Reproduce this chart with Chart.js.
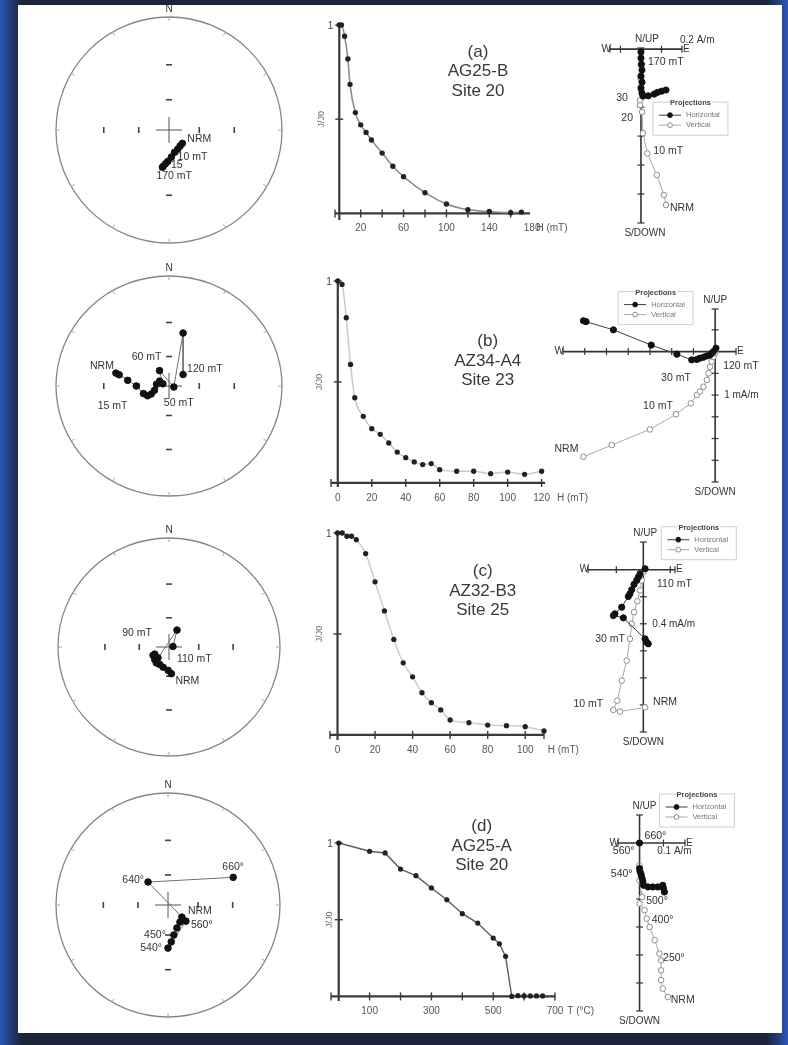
<!DOCTYPE html>
<html><head><meta charset="utf-8">
<script src="https://cdn.jsdelivr.net/npm/chart.js@4.4.1/dist/chart.umd.min.js"></script>
<style>
html,body{margin:0;padding:0}
body{width:788px;height:1045px;position:relative;overflow:hidden;
 background:
  linear-gradient(90deg, rgba(48,92,190,0.95) 0px, rgba(36,64,132,0.7) 12px, rgba(28,37,64,0) 22px, rgba(28,37,64,0) 766px, rgba(36,64,132,0.7) 776px, rgba(48,92,190,0.95) 788px),
  #1b2338;}
#sheet{position:absolute;left:18px;top:5px;width:764px;height:1028px;background:#fff}
canvas{position:absolute}
</style></head>
<body><div id="sheet"></div>
<script>
const FONT = '"Liberation Sans", Arial, sans-serif';
const D2R = Math.PI / 180;

// ---------- equal-angle nets: declination / inclination (deg) ----------
const decA = [135, 145, 155, 166, 175, 182, 186, 189, 190];
const incA = [71, 70.5, 69, 67, 63, 59, 56.5, 54, 53];
const decB = [284, 283, 278, 270, 253, 245, 245, 253, 278, 298, 290, 329, 102, 14.5, 50];
const incB = [38.3, 41.3, 49.5, 57.7, 63.4, 66.3, 70.3, 74.7, 77.3, 79.2, 83.4, 71.5, 85, 37.1, 71.5];
const decC = [175, 182, 196, 208, 218, 228, 242, 243, 225, 25, 82];
const incC = [62.4, 65.8, 68.2, 69.5, 69, 70.4, 71.5, 73.6, 74, 70.6, 85.9];
const decD = [131, 145, 159, 169, 175, 180, 132, 319, 67];
const incD = [71.3, 68.9, 65.2, 59.5, 53.4, 47.9, 65.7, 59.6, 25.4];
const netRingInc = [60, 30];

// ---------- demagnetisation curves: step and J/J0 ----------
const fieldA = [0, 2, 5, 8, 10, 15, 20, 25, 30, 40, 50, 60, 80, 100, 120, 140, 160, 170];
const jA = [1, 1, 0.94, 0.82, 0.685, 0.535, 0.47, 0.43, 0.39, 0.32, 0.25, 0.195, 0.11, 0.05, 0.02, 0.01, 0.004, 0.007];
const fieldB = [0, 2.5, 5, 7.5, 10, 15, 20, 25, 30, 35, 40, 45, 50, 55, 60, 70, 80, 90, 100, 110, 120];
const jB = [1, 0.983, 0.818, 0.587, 0.422, 0.33, 0.269, 0.241, 0.198, 0.153, 0.125, 0.104, 0.091, 0.096, 0.066, 0.058, 0.058, 0.046, 0.054, 0.043, 0.058];
const fieldC = [0, 2.5, 5, 7.5, 10, 15, 20, 25, 30, 35, 40, 45, 50, 55, 60, 70, 80, 90, 100, 110];
const jC = [1, 1, 0.984, 0.984, 0.967, 0.898, 0.758, 0.614, 0.473, 0.357, 0.288, 0.209, 0.16, 0.124, 0.074, 0.061, 0.049, 0.046, 0.041, 0.02];
const tempD = [0, 100, 150, 200, 250, 300, 350, 400, 450, 500, 520, 540, 560, 580, 600, 620, 640, 660];
const jD = [1, 0.946, 0.935, 0.83, 0.787, 0.707, 0.63, 0.539, 0.478, 0.38, 0.343, 0.261, 0, 0.005, 0.003, 0.003, 0.003, 0.003];

const fieldTicksA = [20, 40, 60, 80, 100, 120, 140, 160];
const fieldLabelsA = [20, 60, 100, 140, 180];
const fieldTicksB = [20, 40, 60, 80, 100, 120];
const fieldLabelsB = [0, 20, 40, 60, 80, 100, 120];
const fieldTicksC = [20, 40, 60, 80, 100, 110];
const fieldLabelsC = [0, 20, 40, 60, 80, 100];
const tempTicksD = [100, 200, 300, 400, 500, 600, 700];
const tempLabelsD = [100, 300, 500, 700];

// ---------- orthogonal projections: horizontal (E, N) and vertical (E, Up) ----------
const hEastA = [0.122, 0.101, 0.081, 0.065, 0.036, 0.010, 0.005, 0.000, 0.005, 0.000, 0.005, 0.002, 0.000, 0.000];
const hNorthA = [-0.141, -0.145, -0.149, -0.155, -0.161, -0.162, -0.152, -0.134, -0.114, -0.093, -0.072, -0.052, -0.031, -0.010];
const vEastA = [0.122, 0.112, 0.077, 0.031, 0.010, 0.005, -0.005, -0.005, 0, 0, 0, 0];
const vUpA = [-0.538, -0.503, -0.434, -0.360, -0.290, -0.217, -0.193, -0.176, -0.141, -0.107, -0.055, -0.010];

const hEastB = [-3.03, -2.97, -2.34, -1.47, -0.88, -0.54, -0.42, -0.35, -0.27, -0.19, -0.12, -0.08, -0.04, 0.02];
const hNorthB = [0.71, 0.69, 0.50, 0.15, -0.06, -0.19, -0.18, -0.15, -0.13, -0.10, -0.08, -0.04, 0, 0.08];
const vEastB = [-3.03, -2.38, -1.50, -0.90, -0.56, -0.42, -0.35, -0.27, -0.19, -0.15, -0.12, -0.08, -0.04, 0];
const vUpB = [-2.42, -2.15, -1.79, -1.44, -1.19, -1.0, -0.92, -0.81, -0.65, -0.50, -0.35, -0.23, -0.12, -0.03];

const hEastC = [0.037, 0.025, 0.013, -0.148, -0.222, -0.210, -0.160, -0.111, -0.099, -0.086, -0.069, -0.049, -0.037, -0.024, 0.013];
const hNorthC = [-0.548, -0.536, -0.511, -0.356, -0.339, -0.326, -0.277, -0.198, -0.178, -0.148, -0.109, -0.079, -0.055, -0.030, 0.007];
const vEastC = [0.013, -0.173, -0.222, -0.193, -0.160, -0.123, -0.099, -0.086, -0.069, -0.044, -0.024, -0.012, 0];
const vUpC = [-1.018, -1.049, -1.037, -0.968, -0.82, -0.672, -0.511, -0.40, -0.314, -0.233, -0.153, -0.079, -0.02];

const hEastD = [0.104, 0.100, 0.097, 0.076, 0.055, 0.035, 0.017, 0.014, 0.011, 0.007, 0.003, 0, 0];
const hNorthD = [-0.175, -0.162, -0.151, -0.157, -0.157, -0.157, -0.151, -0.139, -0.127, -0.115, -0.104, -0.091, 0];
const vEastD = [0.118, 0.097, 0.090, 0.090, 0.090, 0.083, 0.063, 0.042, 0.030, 0.021, 0, 0.011, 0, 0.008, 0, 0];
const vUpD = [-0.55, -0.52, -0.49, -0.455, -0.419, -0.395, -0.347, -0.30, -0.27, -0.24, -0.216, -0.193, -0.133, -0.109, -0.08, 0];

// ---------------------------------------------------------------
function mkCanvas(l, t, w, h) {
  const c = document.createElement('canvas');
  c.width = Math.round(w); c.height = Math.round(h);
  c.style.left = Math.round(l) + 'px'; c.style.top = Math.round(t) + 'px';
  c.style.width = Math.round(w) + 'px'; c.style.height = Math.round(h) + 'px';
  document.body.appendChild(c);
  return c;
}
function txt(ctx, s, x, y, o = {}) {
  ctx.save();
  ctx.font = o.font || `10px ${FONT}`;
  ctx.fillStyle = o.color || '#333';
  ctx.textAlign = o.align || 'left';
  ctx.textBaseline = o.base || 'middle';
  ctx.fillText(s, x, y);
  ctx.restore();
}
function seg(ctx, x1, y1, x2, y2) { ctx.beginPath(); ctx.moveTo(x1, y1); ctx.lineTo(x2, y2); ctx.stroke(); }
function xy(xs, ys) { return xs.map((v, i) => ({ x: v, y: ys[i] })); }
function opts(pad, xr, yr, extra) {
  return {
    responsive: false, animation: false, events: [],
    layout: { padding: pad },
    plugins: Object.assign({ legend: { display: false }, tooltip: { enabled: false } }, extra),
    scales: {
      x: { type: 'linear', min: xr[0], max: xr[1], display: false },
      y: { type: 'linear', min: yr[0], max: yr[1], display: false }
    }
  };
}

// text attached to a plotted point
const pointNotes = {
  id: 'pointNotes',
  afterDatasetsDraw(chart, a, o) {
    (o.items || []).forEach(n => {
      const el = chart.getDatasetMeta(n.ds || 0).data[n.i];
      txt(chart.ctx, n.text, el.x + n.dx, el.y + n.dy, { align: n.align || 'left', font: `${n.size || 10.5}px ${FONT}`, color: '#333' });
    });
  }
};

// primitive circle, centre cross and inclination ticks of the net
const netFrame = {
  id: 'netFrame',
  beforeDatasetsDraw(chart) {
    const { ctx, scales: { x, y } } = chart;
    const cx = x.getPixelForValue(0), cy = y.getPixelForValue(0);
    const rx = x.getPixelForValue(1) - cx, ry = cy - y.getPixelForValue(1);
    ctx.save();
    ctx.strokeStyle = '#858585'; ctx.lineWidth = 1.3;
    ctx.beginPath(); ctx.ellipse(cx, cy, rx, ry, 0, 0, 2 * Math.PI); ctx.stroke();
    ctx.lineWidth = 1; ctx.strokeStyle = '#aaa';
    for (let a = 0; a < 360; a += 30) {
      const s = Math.sin(a * D2R), c = Math.cos(a * D2R);
      seg(ctx, cx + s * rx, cy - c * ry, cx + s * (rx - 4), cy - c * (ry - 4));
    }
    ctx.strokeStyle = '#555'; ctx.lineWidth = 1;
    seg(ctx, cx - 13, cy, cx + 13, cy); seg(ctx, cx, cy - 13, cx, cy + 13);
    ctx.lineWidth = 1.6; ctx.strokeStyle = '#444';
    netRingInc.forEach(inc => {
      const r = Math.tan((90 - inc) / 2 * D2R);
      [1, -1].forEach(sg => {
        const py = y.getPixelForValue(sg * r), px = x.getPixelForValue(sg * r);
        seg(ctx, cx - 3, py, cx + 3, py);
        seg(ctx, px, cy - 3, px, cy + 3);
      });
    });
    txt(ctx, 'N', cx, cy - ry - 8, { align: 'center', font: `10px ${FONT}`, color: '#333' });
    ctx.restore();
  }
};

function net(center, rx, ry, dec, inc, notes) {
  const pad = 24;
  const c = mkCanvas(center[0] - rx - pad, center[1] - ry - pad, 2 * rx + 2 * pad, 2 * ry + 2 * pad);
  const pts = dec.map((d, i) => {
    const r = Math.tan((90 - Math.abs(inc[i])) / 2 * D2R);
    return { x: r * Math.sin(d * D2R), y: r * Math.cos(d * D2R) };
  });
  new Chart(c, {
    type: 'scatter',
    data: { datasets: [{ data: pts, showLine: true, borderColor: '#707070', borderWidth: 1, pointRadius: 3.3,
      pointBackgroundColor: '#111', pointBorderColor: '#111', clip: false }] },
    options: opts(pad, [-1, 1], [-1, 1], { pointNotes: { items: notes } }),
    plugins: [netFrame, pointNotes]
  });
}

// axes of the J/J0 curves
const demagAxes = {
  id: 'demagAxes',
  beforeDatasetsDraw(chart, a, o) {
    const { ctx, scales: { x, y } } = chart;
    const X0 = x.getPixelForValue(0), Y0 = y.getPixelForValue(0), Y1 = y.getPixelForValue(1);
    ctx.save();
    ctx.strokeStyle = '#3a3a3a'; ctx.lineWidth = 2.2;
    seg(ctx, X0, y.getPixelForValue(y.min), X0, Y1);
    seg(ctx, x.getPixelForValue(x.min), Y0, x.getPixelForValue(x.max), Y0);
    ctx.lineWidth = 1.4;
    o.xTicks.concat([x.min]).forEach(v => { const p = x.getPixelForValue(v); seg(ctx, p, Y0 - 4, p, Y0 + 4); });
    [0.5, 1].forEach(v => { const p = y.getPixelForValue(v); seg(ctx, X0 - 4, p, X0 + 4, p); });
    const lf = `10px ${FONT}`;
    o.xLabels.forEach(v => txt(ctx, String(v), x.getPixelForValue(v), Y0 + 15, { align: 'center', font: lf, color: '#555' }));
    txt(ctx, o.xTitle, x.getPixelForValue(o.xTitleAt) , Y0 + 15, { align: 'left', font: lf, color: '#555' });
    txt(ctx, '1', X0 - 6, Y1 + 1, { align: 'right', font: lf, color: '#444' });
    ctx.save();
    ctx.translate(X0 - o.titleGap, (Y0 + Y1) / 2);
    ctx.rotate(-Math.PI / 2);
    txt(ctx, 'J/J0', 0, 0, { align: 'center', font: `9px ${FONT}`, color: '#666' });
    ctx.restore();
    const ox = chart.canvas.offsetLeft, oy = chart.canvas.offsetTop;
    o.heading.forEach((s, i) => txt(ctx, s, o.headAt[0] - ox, o.headAt[1] - oy + i * 19.5,
      { align: 'center', font: `17px ${FONT}`, color: '#3a3a3a' }));
    ctx.restore();
  }
};

function demag(g, xs, ys, cfg) {
  const L = g.x0 + g.xMin * g.kx, R = g.x0 + g.xMax * g.kx;
  const T = g.y1, B = g.y0 + (-g.yMin) * (g.y0 - g.y1);
  const pad = { left: 45, right: 75, top: 32, bottom: 30 };
  const c = mkCanvas(L - pad.left, T - pad.top, R - L + pad.left + pad.right, B - T + pad.top + pad.bottom);
  new Chart(c, {
    type: 'scatter',
    data: { datasets: [{ data: xy(xs, ys), showLine: true, borderColor: cfg.line, borderWidth: cfg.lw,
      tension: cfg.smooth ? 0.4 : 0, cubicInterpolationMode: cfg.smooth ? 'monotone' : 'default',
      pointRadius: 1.9, pointBackgroundColor: '#222', pointBorderColor: '#222', clip: false }] },
    options: opts(pad, [g.xMin, g.xMax], [g.yMin, 1], { demagAxes: cfg }),
    plugins: [demagAxes]
  });
}

// axes, scale note and key of the orthogonal projection plots
const zijFrame = {
  id: 'zijFrame',
  beforeDatasetsDraw(chart, a, o) {
    const { ctx, scales: { x, y } } = chart;
    const X0 = x.getPixelForValue(0), Y0 = y.getPixelForValue(0);
    const L = x.getPixelForValue(x.min), R = x.getPixelForValue(x.max);
    const T = y.getPixelForValue(y.max), B = y.getPixelForValue(y.min);
    ctx.save();
    ctx.strokeStyle = '#333'; ctx.lineWidth = 1.6;
    seg(ctx, L, Y0, R, Y0); seg(ctx, X0, T, X0, B);
    ctx.lineWidth = 1.2;
    o.xTicks.forEach(v => { const p = x.getPixelForValue(v); seg(ctx, p, Y0 - 3.5, p, Y0 + 3.5); });
    [L, R].forEach(p => seg(ctx, p, Y0 - 3.5, p, Y0 + 3.5));
    o.yTicks.forEach(v => { const p = y.getPixelForValue(v); seg(ctx, X0 - 3.5, p, X0 + 3.5, p); });
    [T, B].forEach(p => seg(ctx, X0 - 3.5, p, X0 + 3.5, p));
    const f = `10px ${FONT}`;
    txt(ctx, 'W', L + 1, Y0, { align: 'right', font: f });
    txt(ctx, 'E', R + 1, Y0, { align: 'left', font: f });
    txt(ctx, 'N/UP', X0 + (o.upDx || 0), T - 9, { align: 'center', font: f });
    txt(ctx, 'S/DOWN', X0 + (o.downDx || 0), B + 10, { align: 'center', font: f });
    const s = o.scale;
    txt(ctx, s.text, x.getPixelForValue(s.x) + s.dx, y.getPixelForValue(s.y) + s.dy, { align: s.align || 'left', font: f });
    ctx.restore();
  },
  afterDatasetsDraw(chart, a, o) {
    const { ctx, scales: { x, y } } = chart;
    const bx = x.getPixelForValue(0) + o.key[0], by = y.getPixelForValue(0) + o.key[1];
    const w = 75, h = 33;
    ctx.save();
    ctx.fillStyle = 'rgba(255,255,255,0.92)'; ctx.strokeStyle = '#cfcfcf'; ctx.lineWidth = 1;
    ctx.beginPath(); ctx.rect(bx, by, w, h); ctx.fill(); ctx.stroke();
    ctx.fillStyle = '#fff'; ctx.fillRect(bx + 17, by - 4, 42, 8);
    txt(ctx, 'Projections', bx + w / 2, by + 1, { align: 'center', font: `bold 7.5px ${FONT}`, color: '#444' });
    const ds = chart.data.datasets;
    [[0, 'Horizontal'], [1, 'Vertical']].forEach(([k, label], i) => {
      const yy = by + 13 + i * 10;
      ctx.strokeStyle = ds[k].borderColor; ctx.lineWidth = 1;
      seg(ctx, bx + 6, yy, bx + 28, yy);
      ctx.beginPath(); ctx.arc(bx + 17, yy, 2.4, 0, 2 * Math.PI);
      ctx.fillStyle = ds[k].pointBackgroundColor; ctx.fill();
      ctx.strokeStyle = ds[k].pointBorderColor; ctx.stroke();
      txt(ctx, label, bx + 33, yy, { font: `7.5px ${FONT}`, color: '#777' });
    });
    ctx.restore();
  }
};

function zij(g, hx, hy, vx, vy, cfg, notes) {
  const L = g.ox + g.xMin * g.kx, R = g.ox + g.xMax * g.kx;
  const T = g.oy - g.yMax * g.ky, B = g.oy - g.yMin * g.ky;
  const pad = { left: 40, right: 100, top: 70, bottom: 28 };
  const c = mkCanvas(L - pad.left, T - pad.top, R - L + pad.left + pad.right, B - T + pad.top + pad.bottom);
  new Chart(c, {
    type: 'scatter',
    data: { datasets: [
      { label: 'Horizontal', data: xy(hx, hy), showLine: true, borderColor: '#3d3d3d', borderWidth: 1,
        pointRadius: 3.1, pointBackgroundColor: '#111', pointBorderColor: '#111', clip: false },
      { label: 'Vertical', data: xy(vx, vy), showLine: true, borderColor: '#a9a9a9', borderWidth: 1,
        pointRadius: 2.8, pointBackgroundColor: '#fff', pointBorderColor: '#8d8d8d', pointBorderWidth: 1, clip: false }
    ] },
    options: opts(pad, [g.xMin, g.xMax], [g.yMin, g.yMax], { zijFrame: cfg, pointNotes: { items: notes } }),
    plugins: [zijFrame, pointNotes]
  });
}

// ======================= row (a) =======================
net([169, 130], 113, 113, decA, incA, [
  { i: 0, text: 'NRM', dx: 5, dy: -4 },
  { i: 3, text: '10 mT', dx: 3, dy: 4.5 },
  { i: 5, text: '15', dx: 3, dy: 4 },
  { i: 8, text: '170 mT', dx: -6, dy: 9 }
]);
demag({ x0: 339.5, kx: 1.069, y1: 25, y0: 213, xMin: -4, xMax: 178, yMin: -0.035 }, fieldA, jA,
  { xTicks: fieldTicksA, xLabels: fieldLabelsA, xTitle: 'H (mT)', xTitleAt: 184, titleGap: 18,
    heading: ['(a)', 'AG25-B', 'Site 20'], headAt: [478, 52], smooth: true, line: '#8e8e8e', lw: 1.6 });
zij({ ox: 641, oy: 49, kx: 205, ky: 290, xMin: -0.151, xMax: 0.2, yMin: -0.6, yMax: 0.004 },
  hEastA, hNorthA, vEastA, vUpA,
  { xTicks: [-0.1, 0.1], yTicks: [-0.1, -0.2, -0.3, -0.4, -0.5], upDx: 6, downDx: 4,
    scale: { text: '0.2 A/m', x: 0.2, y: 0, dx: -2, dy: -9, align: 'left' }, key: [12, 53] },
  [{ ds: 0, i: 13, text: '170 mT', dx: 7, dy: 10 },
   { ds: 1, i: 7, text: '30', dx: -12, dy: -2, align: 'right' },
   { ds: 1, i: 5, text: '20', dx: -9, dy: 6, align: 'right' },
   { ds: 1, i: 3, text: '10 mT', dx: 6, dy: -2 },
   { ds: 1, i: 0, text: 'NRM', dx: 4, dy: 3 }]);

// ======================= row (b) =======================
net([169.3, 386], 113, 110, decB, incB, [
  { i: 0, text: 'NRM', dx: -2, dy: -7, align: 'right' },
  { i: 4, text: '15 mT', dx: -16, dy: 13, align: 'right' },
  { i: 12, text: '50 mT', dx: -10, dy: 16 },
  { i: 11, text: '60 mT', dx: 2, dy: -14, align: 'right' },
  { i: 14, text: '120 mT', dx: 4, dy: -5 }
]);
demag({ x0: 337.7, kx: 1.70, y1: 280.7, y0: 482.7, xMin: -4, xMax: 122, yMin: -0.02 }, fieldB, jB,
  { xTicks: fieldTicksB, xLabels: fieldLabelsB, xTitle: 'H (mT)', xTitleAt: 129, titleGap: 18,
    heading: ['(b)', 'AZ34-A4', 'Site 23'], headAt: [487.7, 341.7], smooth: true, line: '#c9c9c9', lw: 1.5 });
zij({ ox: 715, oy: 351.7, kx: 43.4, ky: 43.4, xMin: -3.5, xMax: 0.48, yMin: -3.0, yMax: 0.98 },
  hEastB, hNorthB, vEastB, vUpB,
  { xTicks: [-3, -2.5, -2, -1.5, -1, -0.5], yTicks: [0.5, -0.5, -1, -1.5, -2, -2.5],
    scale: { text: '1 mA/m', x: 0, y: -1, dx: 9, dy: 0, align: 'left' }, key: [-97, -60] },
  [{ ds: 1, i: 13, text: '120 mT', dx: 8, dy: 13 },
   { ds: 1, i: 8, text: '30 mT', dx: -16, dy: -2, align: 'right' },
   { ds: 1, i: 4, text: '10 mT', dx: -18, dy: 3, align: 'right' },
   { ds: 1, i: 0, text: 'NRM', dx: -17, dy: -8, align: 'center' }]);

// ======================= row (c) =======================
net([169.3, 646.5], 111, 109, decC, incC, [
  { i: 9, text: '90 mT', dx: -25, dy: 3, align: 'right' },
  { i: 10, text: '110 mT', dx: 4, dy: 13 },
  { i: 0, text: 'NRM', dx: 4, dy: 7 }
]);
demag({ x0: 337.7, kx: 1.88, y1: 532.7, y0: 735, xMin: -4, xMax: 110, yMin: -0.025 }, fieldC, jC,
  { xTicks: fieldTicksC, xLabels: fieldLabelsC, xTitle: 'H (mT)', xTitleAt: 112, titleGap: 18,
    heading: ['(c)', 'AZ32-B3', 'Site 25'], headAt: [482.7, 571.7], smooth: true, line: '#cdcdcd', lw: 1.5 });
zij({ ox: 643.3, oy: 569.3, kx: 135, ky: 135, xMin: -0.41, xMax: 0.235, yMin: -1.2, yMax: 0.205 },
  hEastC, hNorthC, vEastC, vUpC,
  { xTicks: [-0.2, 0.2], yTicks: [-0.2, -0.4, -0.6, -0.8, -1.0], upDx: 2,
    scale: { text: '0.4 mA/m', x: 0, y: -0.4, dx: 9, dy: 0, align: 'left' }, key: [18, -43] },
  [{ ds: 0, i: 14, text: '110 mT', dx: 12, dy: 15 },
   { ds: 1, i: 6, text: '30 mT', dx: -5, dy: 0, align: 'right' },
   { ds: 1, i: 3, text: '10 mT', dx: -14, dy: 3, align: 'right' },
   { ds: 1, i: 0, text: 'NRM', dx: 8, dy: -5 }]);

// ======================= row (d) =======================
net([168, 905], 112, 112, decD, incD, [
  { i: 0, text: 'NRM', dx: 6, dy: -6 },
  { i: 3, text: '450°', dx: -8, dy: 0, align: 'right' },
  { i: 5, text: '540°', dx: -6, dy: 0, align: 'right' },
  { i: 6, text: '560°', dx: 5, dy: 4 },
  { i: 7, text: '640°', dx: -4, dy: -2, align: 'right' },
  { i: 8, text: '660°', dx: 0, dy: -10, align: 'center' }
]);
demag({ x0: 339, kx: 0.3087, y1: 843.3, y0: 996.7, xMin: -25, xMax: 700, yMin: -0.03 }, tempD, jD,
  { xTicks: tempTicksD, xLabels: tempLabelsD, xTitle: 'T (°C)', xTitleAt: 740, titleGap: 9,
    heading: ['(d)', 'AG25-A', 'Site 20'], headAt: [481.7, 826.7], smooth: false, line: '#5e5e5e', lw: 1.4 });
zij({ ox: 640, oy: 842.7, kx: 240, ky: 280, xMin: -0.09, xMax: 0.19, yMin: -0.6, yMax: 0.1 },
  hEastD, hNorthD, vEastD, vUpD,
  { xTicks: [0.1], yTicks: [-0.1, -0.2, -0.3, -0.4, -0.5], upDx: 5,
    scale: { text: '0.1 A/m', x: 0.1, y: 0, dx: 11, dy: 8, align: 'center' }, key: [20, -49] },
  [{ ds: 0, i: 12, text: '660°', dx: 5, dy: -7 },
   { ds: 0, i: 12, text: '560°', dx: -5, dy: 8, align: 'right' },
   { ds: 0, i: 11, text: '540°', dx: -7, dy: 6, align: 'right' },
   { ds: 1, i: 11, text: '500°', dx: 4, dy: 4 },
   { ds: 1, i: 8, text: '400°', dx: 5, dy: 2 },
   { ds: 1, i: 4, text: '250°', dx: 2, dy: -2 },
   { ds: 1, i: 0, text: 'NRM', dx: 3, dy: 3 }]);
</script>
</body></html>
